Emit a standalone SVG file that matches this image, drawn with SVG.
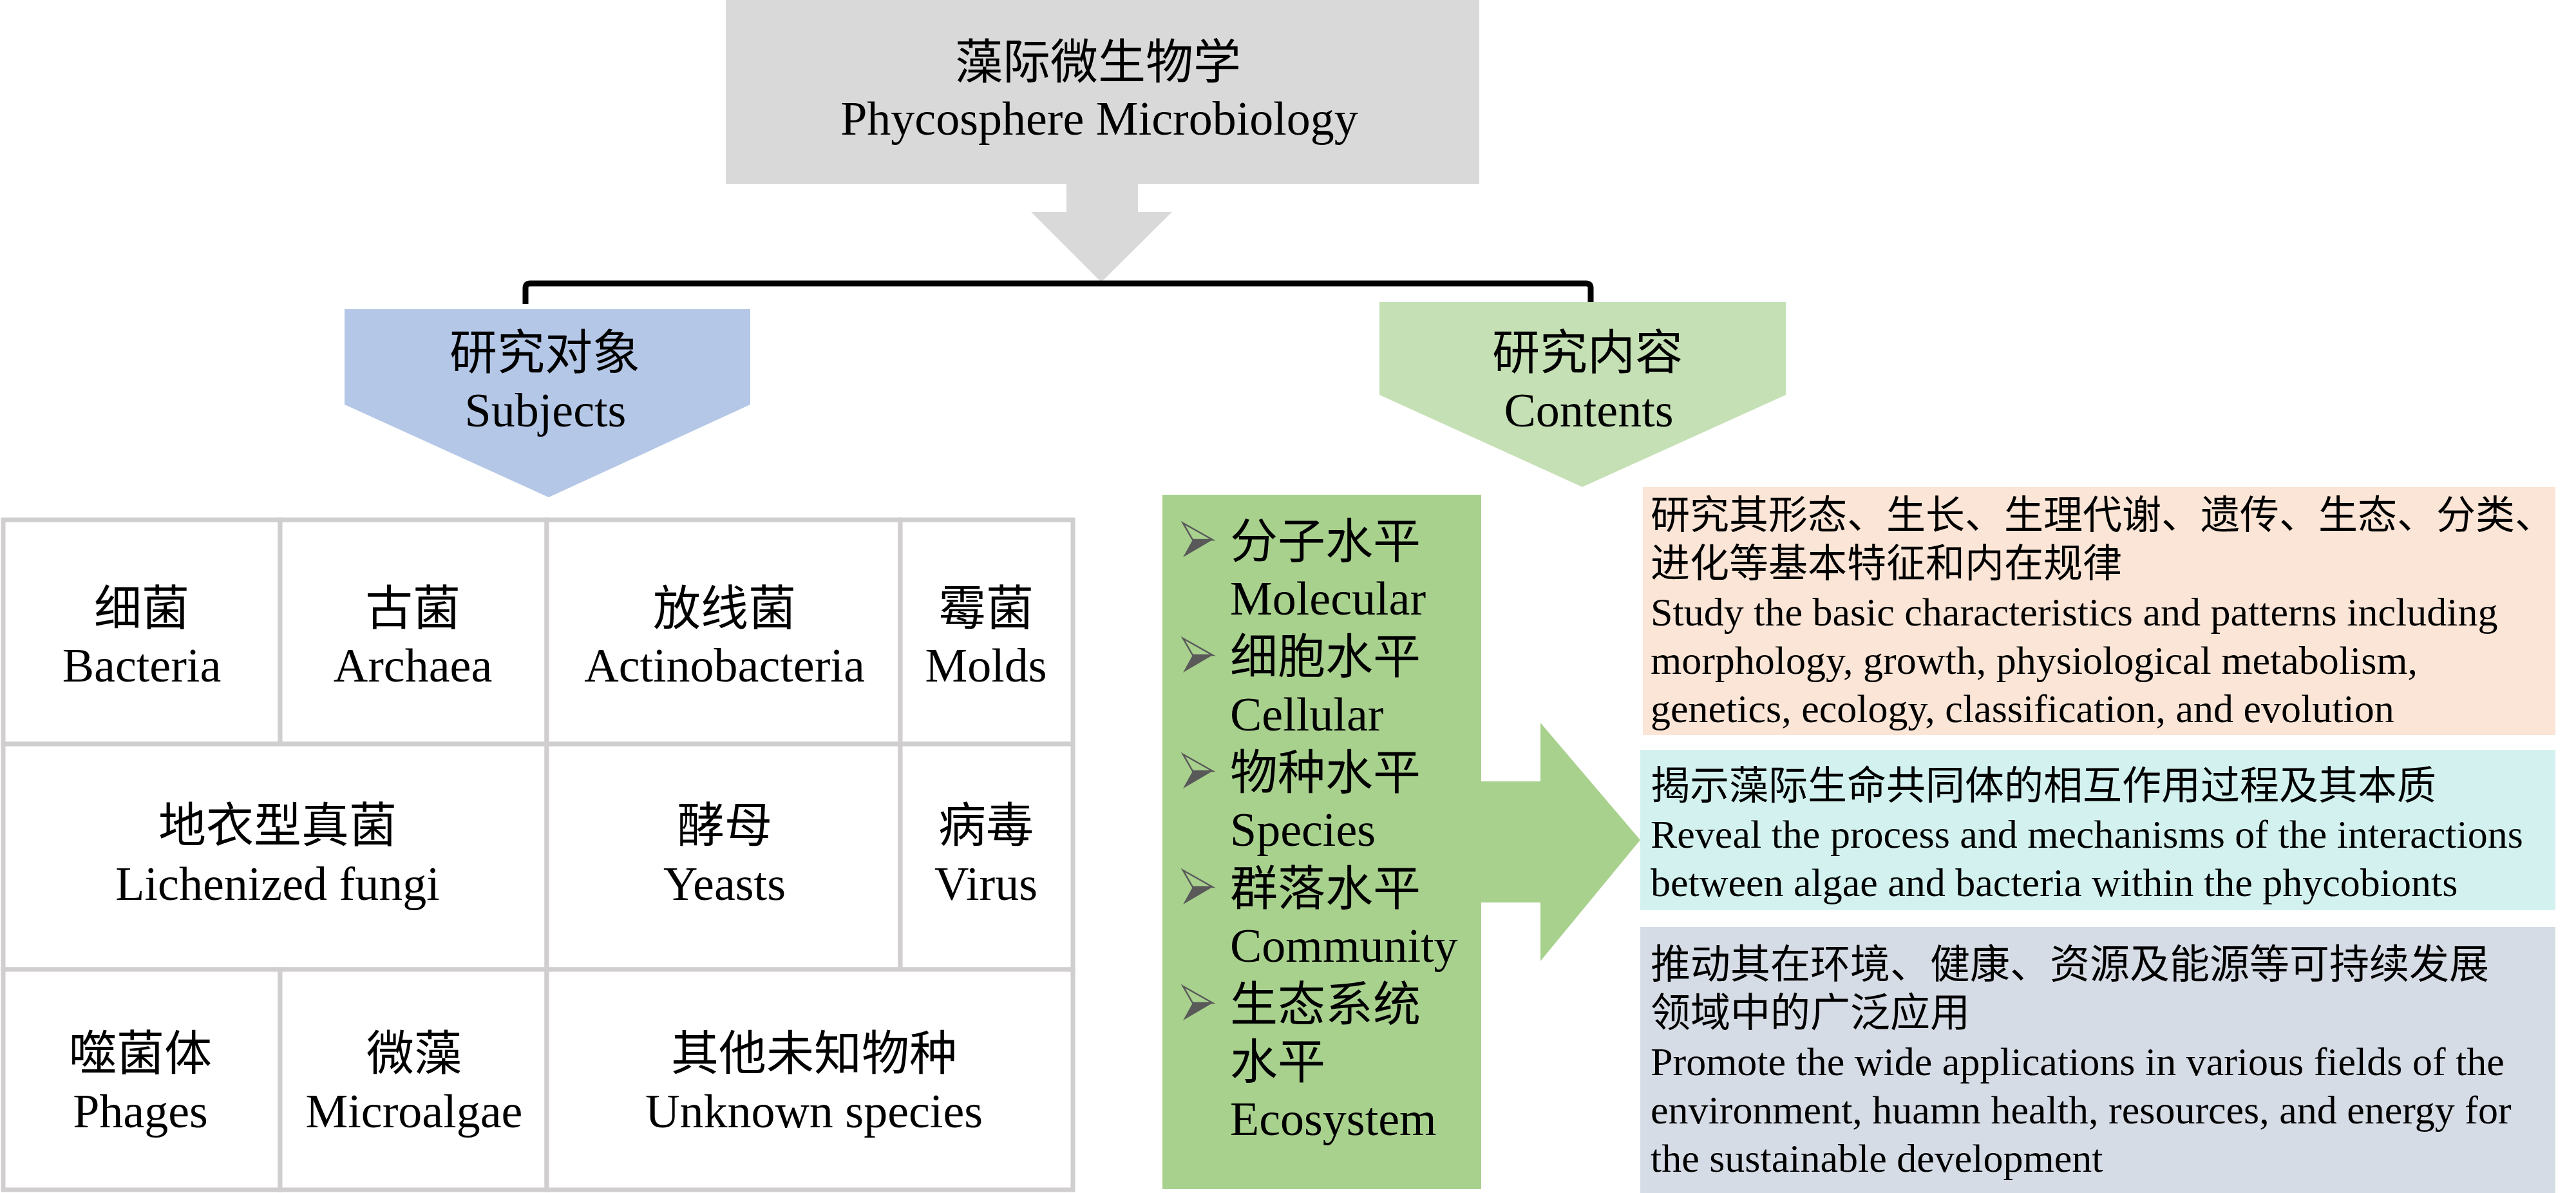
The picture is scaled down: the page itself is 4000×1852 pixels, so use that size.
<svg xmlns="http://www.w3.org/2000/svg" xmlns:xlink="http://www.w3.org/1999/xlink" width="4000" height="1852" viewBox="0 0 4000 1852">
<style>
text { font-family: "Liberation Serif", "Noto Sans CJK SC", serif; fill: #000; }
.c74 { font-size: 74px; text-anchor: middle; }
.l74 { font-size: 74px; }
.r62 { font-size: 62px; }
.r61 { font-size: 61px; }
.cell { fill: #FFFFFF; stroke: #D0CECE; stroke-width: 7; }
</style>
<defs>
<g id="bullet">
<polygon points="0,0 46,26 15,26" fill="none" stroke="#595959" stroke-width="2.5" stroke-linejoin="miter"/>
<polygon points="15,26 46,26 0,53" fill="#595959"/>
</g>
</defs>
<rect width="4000" height="1852" fill="#FFFFFF"/>

<g id="connectors">
<polygon points="1656,285 1767,285 1767,329 1820,329 1710,438 1601,329 1656,329" fill="#D9D9D9"/>
<path d="M816,472 L816,447 Q816,440 823,440 L2463,440 Q2470,440 2470,447 L2470,472" fill="none" stroke="#000" stroke-width="9"/>
<polygon points="2296,1213 2392,1213 2392,1122 2547,1304 2392,1492 2392,1401 2296,1401" fill="#A9D18E"/>
</g>

<g id="title">
<rect x="1127" y="0" width="1170" height="286" fill="#D9D9D9"/>
<text class="c74" x="1705" y="122">藻际微生物学</text>
<text class="c74" x="1707" y="209">Phycosphere Microbiology</text>
</g>

<g id="subjects">
<polygon points="535,480 1165,480 1165,628 852,772 535,628" fill="#B4C7E7"/>
<text class="c74" x="846" y="573">研究对象</text>
<text class="c74" x="847" y="662">Subjects</text>
</g>

<g id="contents">
<polygon points="2142,469 2773,469 2773,613 2457,756 2142,613" fill="#C5E0B4"/>
<text class="c74" x="2465" y="573">研究内容</text>
<text class="c74" x="2467" y="662">Contents</text>
</g>

<g id="table">
<g id="cell-bacteria"><rect class="cell" x="5" y="807" width="430" height="348"/>
<text class="c74" x="220" y="970">细菌</text><text class="c74" x="220" y="1058">Bacteria</text></g>
<g id="cell-archaea"><rect class="cell" x="435" y="807" width="414" height="348"/>
<text class="c74" x="641" y="970">古菌</text><text class="c74" x="641" y="1058">Archaea</text></g>
<g id="cell-actinobacteria"><rect class="cell" x="849" y="807" width="549" height="348"/>
<text class="c74" x="1125" y="970">放线菌</text><text class="c74" x="1125" y="1058">Actinobacteria</text></g>
<g id="cell-molds"><rect class="cell" x="1398" y="807" width="268" height="348"/>
<text class="c74" x="1531" y="970">霉菌</text><text class="c74" x="1531" y="1058">Molds</text></g>
<g id="cell-lichenized"><rect class="cell" x="5" y="1155" width="844" height="350"/>
<text class="c74" x="431" y="1307">地衣型真菌</text><text class="c74" x="431" y="1397">Lichenized fungi</text></g>
<g id="cell-yeasts"><rect class="cell" x="849" y="1155" width="549" height="350"/>
<text class="c74" x="1125" y="1307">酵母</text><text class="c74" x="1125" y="1397">Yeasts</text></g>
<g id="cell-virus"><rect class="cell" x="1398" y="1155" width="268" height="350"/>
<text class="c74" x="1531" y="1307">病毒</text><text class="c74" x="1531" y="1397">Virus</text></g>
<g id="cell-phages"><rect class="cell" x="5" y="1505" width="430" height="342"/>
<text class="c74" x="218" y="1661">噬菌体</text><text class="c74" x="218" y="1750">Phages</text></g>
<g id="cell-microalgae"><rect class="cell" x="435" y="1505" width="414" height="342"/>
<text class="c74" x="643" y="1661">微藻</text><text class="c74" x="643" y="1750">Microalgae</text></g>
<g id="cell-unknown"><rect class="cell" x="849" y="1505" width="817" height="342"/>
<text class="c74" x="1264" y="1661">其他未知物种</text><text class="c74" x="1264" y="1750">Unknown species</text></g>
</g>

<g id="levels">
<rect x="1805" y="768" width="495" height="1078" fill="#A9D18E"/>
<use xlink:href="#bullet" x="1837" y="812"/>
<use xlink:href="#bullet" x="1837" y="991"/>
<use xlink:href="#bullet" x="1837" y="1171"/>
<use xlink:href="#bullet" x="1837" y="1351"/>
<use xlink:href="#bullet" x="1837" y="1531"/>
<text class="l74" x="1910" y="866">分子水平</text>
<text class="l74" x="1910" y="954">Molecular</text>
<text class="l74" x="1910" y="1045">细胞水平</text>
<text class="l74" x="1910" y="1134">Cellular</text>
<text class="l74" x="1910" y="1225">物种水平</text>
<text class="l74" x="1910" y="1313">Species</text>
<text class="l74" x="1910" y="1405">群落水平</text>
<text class="l74" x="1910" y="1493">Community</text>
<text class="l74" x="1910" y="1585">生态系统</text>
<text class="l74" x="1910" y="1674">水平</text>
<text class="l74" x="1910" y="1762">Ecosystem</text>
</g>

<g id="content-1">
<rect x="2551" y="756" width="1417" height="385" fill="#FBE5D6"/>
<text class="r61" x="2563" y="821">研究其形态、生长、生理代谢、遗传、生态、分类、</text>
<text class="r61" x="2563" y="896">进化等基本特征和内在规律</text>
<text class="r62" x="2563" y="971">Study the basic characteristics and patterns including</text>
<text class="r62" x="2563" y="1046">morphology, growth, physiological metabolism,</text>
<text class="r62" x="2563" y="1121">genetics, ecology, classification, and evolution</text>
</g>

<g id="content-2">
<rect x="2547" y="1164" width="1421" height="249" fill="#D3F2EF"/>
<text class="r61" x="2563" y="1241">揭示藻际生命共同体的相互作用过程及其本质</text>
<text class="r62" x="2563" y="1316">Reveal the process and mechanisms of the interactions</text>
<text class="r62" x="2563" y="1391">between algae and bacteria within the phycobionts</text>
</g>

<g id="content-3">
<rect x="2547" y="1439" width="1421" height="413" fill="#D6DCE5"/>
<text class="r62" x="2563" y="1519">推动其在环境、健康、资源及能源等可持续发展</text>
<text class="r62" x="2563" y="1594">领域中的广泛应用</text>
<text class="r62" x="2563" y="1669">Promote the wide applications in various fields of the</text>
<text class="r62" x="2563" y="1744">environment, huamn health, resources, and energy for</text>
<text class="r62" x="2563" y="1819">the sustainable development</text>
</g>
</svg>
